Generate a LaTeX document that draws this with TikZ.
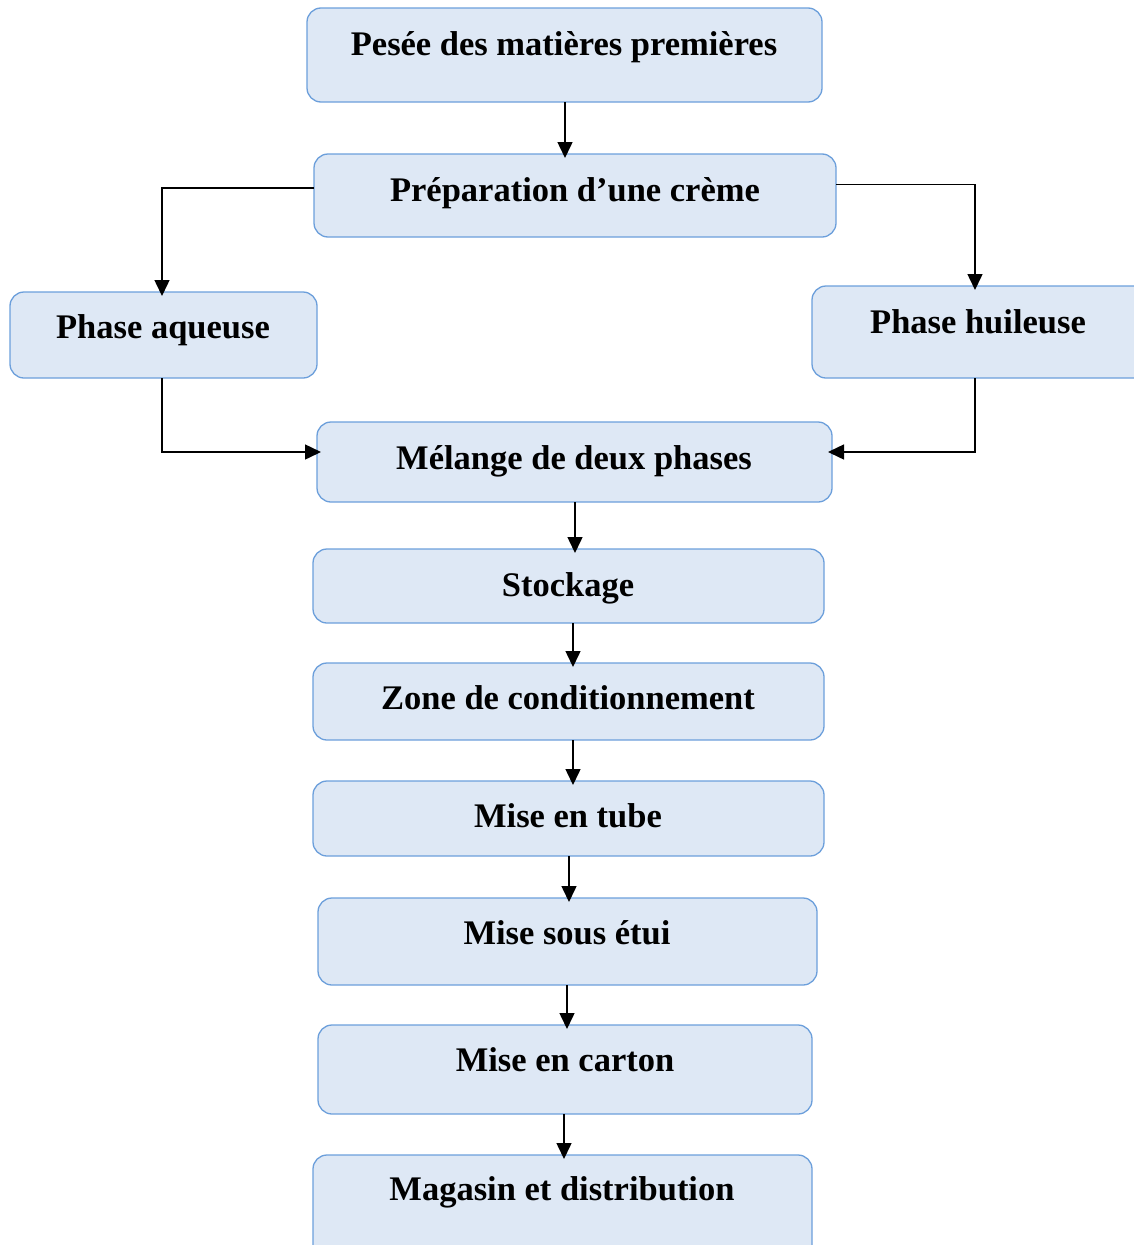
\documentclass[tikz,border=0pt]{standalone}
\usepackage{fontspec}
\setmainfont{Liberation Serif}
\usetikzlibrary{arrows.meta}
\definecolor{boxfill}{HTML}{DEE8F5}
\definecolor{boxline}{HTML}{6C9FDB}
\begin{document}
\begin{tikzpicture}[x=1pt,y=-1pt,
 box/.style={draw=boxline, fill=boxfill, line width=1.3pt, rounded corners=14pt, inner sep=0pt, outer sep=0pt},
 lbl/.style={anchor=base, font=\fontsize{34.5}{40}\selectfont\bfseries, inner sep=0pt},
 arr/.style={draw=black, line width=1.5pt, shorten >=-4pt, -{Triangle[length=16pt,width=15pt]}}]
\useasboundingbox (0,0) rectangle (1133,1245);
\node[box, minimum width=515pt, minimum height=94pt] (pesee) at (564.5,55) {};
\node[box, minimum width=522pt, minimum height=83pt] (prep) at (575,195.5) {};
\node[box, minimum width=307pt, minimum height=86pt] (aq) at (163.5,335) {};
\node[box, minimum width=338pt, minimum height=92pt] (hui) at (981,332) {};
\node[box, minimum width=515pt, minimum height=80pt] (mel) at (574.5,462) {};
\node[box, minimum width=511pt, minimum height=74pt] (sto) at (568.5,586) {};
\node[box, minimum width=511pt, minimum height=77pt] (zone) at (568.5,701.5) {};
\node[box, minimum width=511pt, minimum height=75pt] (tube) at (568.5,818.5) {};
\node[box, minimum width=499pt, minimum height=87pt] (etui) at (567.5,941.5) {};
\node[box, minimum width=494pt, minimum height=89pt] (carton) at (565,1069.5) {};
\node[box, minimum width=499pt, minimum height=105pt] (mag) at (562.5,1207.5) {};

\node[lbl] (t1) at (564,55) {Pesée des matières premières};
\node[lbl] (t2) at (575,201) {Préparation d’une crème};
\node[lbl] (t3) at (163,338) {Phase aqueuse};
\node[lbl] (t4) at (978,333) {Phase huileuse};
\node[lbl] (t5) at (574,469) {Mélange de deux phases};
\node[lbl] (t6) at (568,596) {Stockage};
\node[lbl] (t7) at (568,709) {Zone de conditionnement};
\node[lbl] (t8) at (568,827) {Mise en tube};
\node[lbl] (t9) at (567,944) {Mise sous étui};
\node[lbl] (t10) at (565,1071) {Mise en carton};
\node[lbl] (t11) at (562,1200) {Magasin et distribution};

\draw[arr] ([xshift=0.5pt]pesee.south) -- ([xshift=0.5pt]pesee.south |- prep.north);
\draw[arr] ([yshift=7.5pt]prep.west) -| ([xshift=-1.5pt]aq.north);
\draw[arr] ([yshift=11pt]prep.east) -| ([xshift=-6pt]hui.north);
\draw[arr] ([xshift=-1.5pt]aq.south) |- ([yshift=10pt]mel.west);
\draw[arr] ([xshift=-6pt]hui.south) |- ([yshift=10pt]mel.east);
\draw[arr] ([xshift=0.5pt]mel.south) -- ([xshift=0.5pt]mel.south |- sto.north);
\draw[arr] ([xshift=4.5pt]sto.south) -- ([xshift=4.5pt]sto.south |- zone.north);
\draw[arr] ([xshift=4.5pt]zone.south) -- ([xshift=4.5pt]zone.south |- tube.north);
\draw[arr] ([xshift=0.5pt]tube.south) -- ([xshift=0.5pt]tube.south |- etui.north);
\draw[arr] ([xshift=-0.5pt]etui.south) -- ([xshift=-0.5pt]etui.south |- carton.north);
\draw[arr] ([xshift=-1pt]carton.south) -- ([xshift=-1pt]carton.south |- mag.north);
\end{tikzpicture}
\end{document}
